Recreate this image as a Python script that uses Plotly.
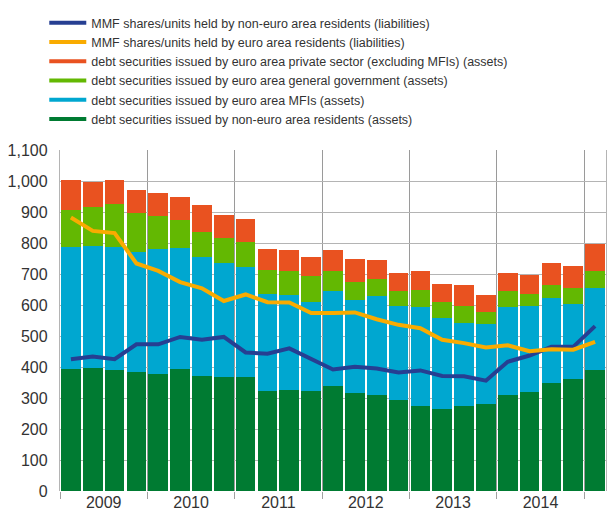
import plotly.graph_objects as go

periods = ["2009Q1","2009Q2","2009Q3","2009Q4","2010Q1","2010Q2","2010Q3","2010Q4",
           "2011Q1","2011Q2","2011Q3","2011Q4","2012Q1","2012Q2","2012Q3","2012Q4",
           "2013Q1","2013Q2","2013Q3","2013Q4","2014Q1","2014Q2","2014Q3","2014Q4","2015Q1"]
year_labels = ["2009", "2010", "2011", "2012", "2013", "2014"]

# stacked components (EUR billions)
non_euro_assets = [392, 396, 389, 383, 376, 392, 370, 367, 367, 324, 327, 324, 340, 315, 309,
                   292, 273, 264, 273, 280, 309, 318, 350, 360, 389]
mfi_assets = [394, 394, 397, 388, 404, 392, 384, 368, 354, 313, 304, 287, 304, 300, 320,
              305, 320, 294, 268, 259, 284, 279, 274, 243, 266]
gov_assets = [122, 125, 140, 125, 106, 89, 83, 81, 81, 77, 80, 84, 67, 58, 54,
              47, 54, 53, 57, 40, 51, 40, 42, 53, 56]
private_assets = [94, 81, 76, 74, 74, 77, 84, 73, 77, 68, 68, 61, 68, 74, 61,
                  58, 64, 58, 65, 52, 58, 61, 68, 71, 87]
mmf_non_euro = [425, 434, 425, 473, 473, 497, 488, 497, 447, 443, 460, 425, 392, 401, 395,
                382, 389, 371, 370, 356, 417, 437, 465, 465, 532]
mmf_euro = [882, 839, 832, 734, 710, 674, 654, 613, 634, 609, 608, 574, 574, 576, 554,
            536, 525, 488, 477, 463, 470, 451, 457, 456, 481]

names = {
    "mmf_ne": "MMF shares/units held by non-euro area residents (liabilities)",
    "mmf_e": "MMF shares/units held by euro area residents (liabilities)",
    "priv": "debt securities issued by euro area private sector (excluding MFIs) (assets)",
    "gov": "debt securities issued by euro area general government (assets)",
    "mfi": "debt securities issued by euro area MFIs (assets)",
    "ne": "debt securities issued by non-euro area residents (assets)",
}
colors = {
    "mmf_ne": "#263f92",
    "mmf_e": "#f9ab00",
    "priv": "#e95220",
    "gov": "#63b802",
    "mfi": "#00a7d0",
    "ne": "#007b32",
}

x = list(range(len(periods)))
fig = go.Figure()

for key, vals in [("ne", non_euro_assets), ("mfi", mfi_assets), ("gov", gov_assets), ("priv", private_assets)]:
    fig.add_trace(go.Bar(x=x, y=vals, name=names[key], marker=dict(color=colors[key], line=dict(width=0)),
                         width=0.9, showlegend=False, hovertext=periods))

for key, vals in [("mmf_ne", mmf_non_euro), ("mmf_e", mmf_euro)]:
    fig.add_trace(go.Scatter(x=x, y=vals, name=names[key], mode="lines",
                             line=dict(color=colors[key], width=4), showlegend=False, hovertext=periods))

# legend entries (line swatches), in reference order
legend_order = ["mmf_ne", "mmf_e", "priv", "gov", "mfi", "ne"]
for i, key in enumerate(legend_order):
    fig.add_trace(go.Scatter(x=[None], y=[None], mode="lines", name=names[key],
                             line=dict(color=colors[key], width=4), legendrank=i + 1))

year_centers = [1.5 + 4 * i for i in range(len(year_labels))]

# page body has an 8px margin, so the figure is sized to fit the 616x514 window
fig.update_layout(
    width=608, height=506,
    barmode="stack", bargap=0,
    plot_bgcolor="white", paper_bgcolor="white",
    margin=dict(l=52, r=10, t=142, b=23, autoexpand=False),
    font=dict(family="Liberation Sans, Arial, sans-serif", size=14, color="#333333"),
    legend=dict(x=-0.0288, y=1.4164, xanchor="left", yanchor="top", bgcolor="rgba(0,0,0,0)",
                font=dict(size=12.5, color="#333333"), traceorder="normal", tracegroupgap=0,
                itemwidth=37),
    xaxis=dict(range=[-0.5, 24.5], tickmode="array", tickvals=year_centers, ticktext=year_labels,
               ticks="", showgrid=False, zeroline=False, showline=False, automargin=False,
               tickfont=dict(size=16, color="#333333"),
               minor=dict(tickmode="linear", tick0=-0.5, dtick=4, showgrid=True, gridcolor="#9a9a9a",
                          gridwidth=1.2, ticks="outside", ticklen=7, tickcolor="#a0a0a0", tickwidth=1.2)),
    yaxis=dict(range=[0, 1100], dtick=100, tickformat=",", showgrid=True, gridcolor="#b4b4b4", gridwidth=1.3,
               zeroline=False, showline=True, linecolor="#b4b4b4", linewidth=1.3, automargin=False,
               tickfont=dict(size=16, color="#333333"), ticks="", ticklabelstandoff=8),
    yaxis2=dict(overlaying="y", side="right", range=[0, 1100], showgrid=False, showticklabels=False,
                showline=True, linecolor="#b4b4b4", linewidth=1.3, zeroline=False, automargin=False),
)
fig.add_trace(go.Scatter(x=[None], y=[None], yaxis="y2", showlegend=False))

fig.write_html("out.html")
